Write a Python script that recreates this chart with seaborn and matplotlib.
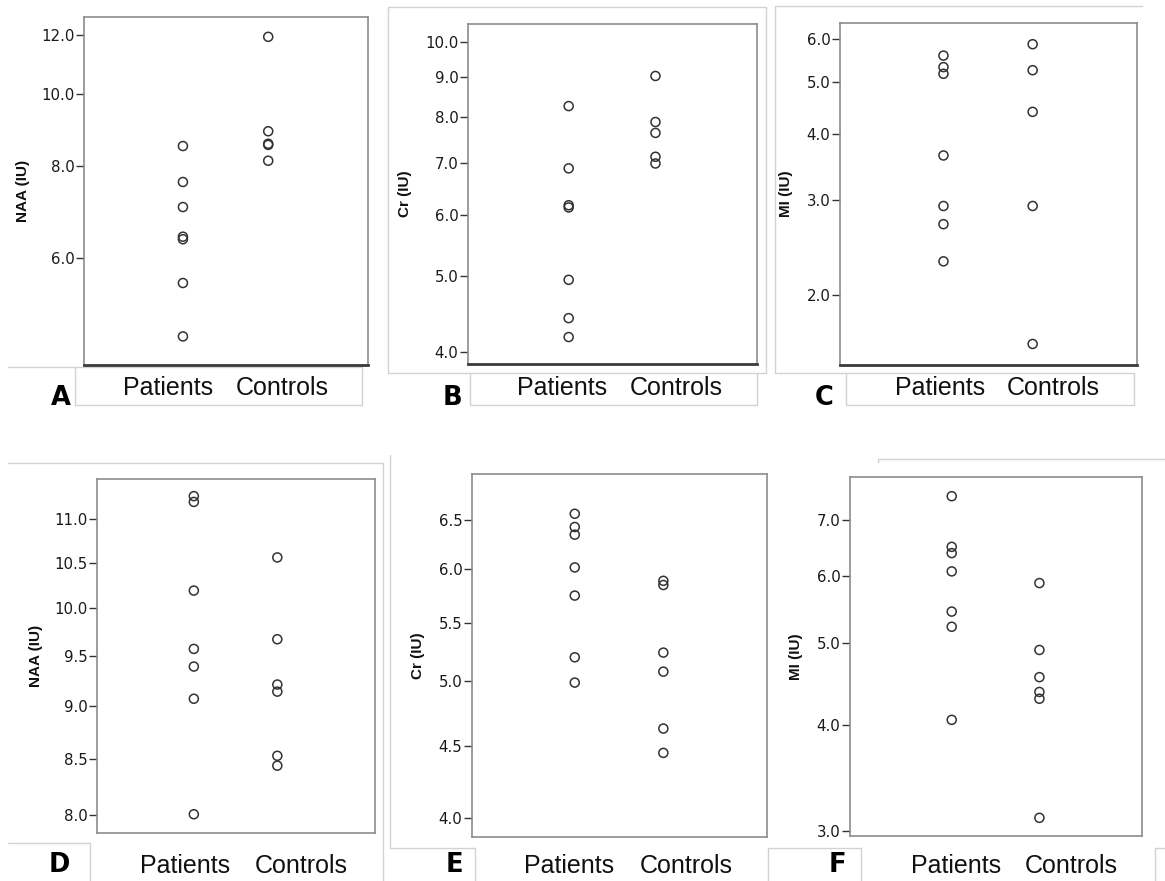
import numpy as np
import pandas as pd
import matplotlib
matplotlib.use("Agg")
import matplotlib.pyplot as plt
from matplotlib.ticker import FixedLocator, FormatStrFormatter, NullLocator
from matplotlib.lines import Line2D
import seaborn as sns

# ---- data -----------------------------------------------------------------
groups = ["Patients", "Controls"]

naa_a_patients = [8.50, 7.60, 7.03, 6.41, 6.36, 5.55, 4.70]
naa_a_controls = [11.94, 8.90, 8.56, 8.53, 8.12]

cr_b_patients = [8.27, 6.88, 6.17, 6.13, 4.95, 4.42, 4.18]
cr_b_controls = [9.04, 7.89, 7.64, 7.12, 6.98]

mi_c_patients = [5.59, 5.32, 5.17, 3.64, 2.93, 2.71, 2.31]
mi_c_controls = [5.87, 5.25, 4.39, 2.93, 1.62]

naa_d_patients = [11.28, 11.21, 10.19, 9.57, 9.39, 9.07, 8.01]
naa_d_controls = [10.56, 9.67, 9.21, 9.14, 8.53, 8.44]

cr_e_patients = [6.57, 6.43, 6.35, 6.02, 5.75, 5.20, 4.99]
cr_e_controls = [5.89, 5.85, 5.24, 5.08, 4.63, 4.45]

mi_f_patients = [7.46, 6.50, 6.39, 6.08, 5.45, 5.23, 4.06]
mi_f_controls = [5.89, 4.91, 4.56, 4.38, 4.30, 3.11]

ticks_a = [6.0, 8.0, 10.0, 12.0]
ticks_b = [4.0, 5.0, 6.0, 7.0, 8.0, 9.0, 10.0]
ticks_c = [2.0, 3.0, 4.0, 5.0, 6.0]
ticks_d = [8.0, 8.5, 9.0, 9.5, 10.0, 10.5, 11.0]
ticks_e = [4.0, 4.5, 5.0, 5.5, 6.0, 6.5]
ticks_f = [3.0, 4.0, 5.0, 6.0, 7.0]

# ---- figure ---------------------------------------------------------------
W, H = 1165, 881
sns.set_theme(style="white")
plt.rcParams["font.family"] = ["Liberation Sans", "DejaVu Sans"]

fig = plt.figure(figsize=(W / 100, H / 100), dpi=100)
fig.patch.set_facecolor("white")


def box(l, t, r, b):
    return [l / W, 1 - b / H, (r - l) / W, (b - t) / H]


def fx(x):
    return x / W


def fy(y):
    return 1 - y / H


panels = [
    dict(p=naa_a_patients, c=naa_a_controls, ylabel="NAA (IU)", ticks=ticks_a,
         ylim=(4.30, 12.7), ax=(84, 17, 368, 365), heavy=True, lab_x=-0.19,
         letter="A", let=(61, 405), words=(168, 282, 395)),
    dict(p=cr_b_patients, c=cr_b_controls, ylabel="Cr (IU)", ticks=ticks_b,
         ylim=(3.86, 10.54), ax=(468, 24, 757, 364), heavy=True, lab_x=-0.194,
         letter="B", let=(452, 405), words=(562, 676, 395)),
    dict(p=mi_c_patients, c=mi_c_controls, ylabel="MI (IU)", ticks=ticks_c,
         ylim=(1.48, 6.43), ax=(840, 23, 1137, 365), heavy=True, lab_x=-0.158,
         letter="C", let=(824, 405), words=(940, 1053, 395)),
    dict(p=naa_d_patients, c=naa_d_controls, ylabel="NAA (IU)", ticks=ticks_d,
         ylim=(7.85, 11.49), ax=(97, 479, 375, 833), heavy=False, lab_x=-0.194,
         letter="D", let=(59, 872), words=(185, 301, 873)),
    dict(p=cr_e_patients, c=cr_e_controls, ylabel="Cr (IU)", ticks=ticks_e,
         ylim=(3.88, 7.01), ax=(472, 474, 767, 837), heavy=False, lab_x=-0.159,
         letter="E", let=(454, 872), words=(569, 686, 873)),
    dict(p=mi_f_patients, c=mi_f_controls, ylabel="MI (IU)", ticks=ticks_f,
         ylim=(2.96, 7.86), ax=(850, 477, 1142, 836), heavy=False, lab_x=-0.161,
         letter="F", let=(837, 872), words=(956, 1071, 873)),
]

frame_grey = "#8c8c8c"
for spec in panels:
    ax = fig.add_axes(box(*spec["ax"]))
    df = pd.DataFrame({
        "group": [groups[0]] * len(spec["p"]) + [groups[1]] * len(spec["c"]),
        "value": list(spec["p"]) + list(spec["c"]),
    })
    sns.stripplot(data=df, x="group", y="value", order=groups, jitter=False,
                  size=6.5, color="white", linewidth=1.1, edgecolor="#333333", ax=ax)
    for coll in ax.collections:
        coll.set_facecolor("none")
        coll.set_edgecolor("#333333")
        coll.set_linewidth(1.1)

    ax.set_yscale("log")
    ax.set_ylim(*spec["ylim"])
    ax.set_xlim(-1.16, 2.17)
    ax.yaxis.set_major_locator(FixedLocator(spec["ticks"]))
    ax.yaxis.set_major_formatter(FormatStrFormatter("%.1f"))
    ax.yaxis.set_minor_locator(NullLocator())
    ax.set_xticks([])
    ax.set_xlabel("")
    ax.set_ylabel(spec["ylabel"], fontsize=11, fontweight="bold", color="#111111")
    ax.yaxis.set_label_coords(spec["lab_x"], 0.5)
    ax.tick_params(axis="y", which="major", left=True, length=6, width=1.0,
                   color="#333333", labelsize=10.8, labelcolor="#1a1a1a", pad=1,
                   labelfontfamily="DejaVu Sans")
    for side in ["left", "top", "right"]:
        ax.spines[side].set_color(frame_grey)
        ax.spines[side].set_linewidth(1.2)
    if spec["heavy"]:
        ax.spines["bottom"].set_color("#3a3a3a")
        ax.spines["bottom"].set_linewidth(2.0)
    else:
        ax.spines["bottom"].set_color(frame_grey)
        ax.spines["bottom"].set_linewidth(1.2)
    ax.set_facecolor("white")

    px, cx, by = spec["words"]
    fig.text(fx(px), fy(by), groups[0], ha="center", va="baseline",
             fontsize=18, color="#111111")
    fig.text(fx(cx), fy(by), groups[1], ha="center", va="baseline",
             fontsize=18, color="#111111")
    lx, ly = spec["let"]
    fig.text(fx(lx), fy(ly), spec["letter"], ha="center", va="baseline",
             fontsize=18.5, fontweight="bold", family="DejaVu Sans", color="black")

# light layout rules around panels and caption boxes
rules = [
    [(8, 367), (75, 367)],
    [(75, 367), (362, 367), (362, 405), (75, 405), (75, 367)],
    [(470, 373), (388, 373), (388, 7), (766, 7), (766, 373), (757, 373)],
    [(470, 373), (757, 373), (757, 405), (470, 405), (470, 373)],
    [(846, 373), (775, 373), (775, 6), (1142, 6)],
    [(846, 373), (1134, 373), (1134, 405), (846, 405), (846, 373)],
    [(8, 463), (383, 463), (383, 881)],
    [(8, 843), (90, 843), (90, 881)],
    [(390, 455), (390, 848), (475, 848), (475, 881)],
    [(768, 881), (768, 848), (861, 848), (861, 881)],
    [(1165, 848), (1155, 848), (1155, 881)],
    [(878, 462), (878, 459), (1165, 459)],
]
for pts in rules:
    xs = [fx(p[0]) for p in pts]
    ys = [fy(p[1]) for p in pts]
    fig.add_artist(Line2D(xs, ys, transform=fig.transFigure, color="#d2d2d2",
                          linewidth=1.0, zorder=0))

fig.savefig("out.png", dpi=100, facecolor="white")
